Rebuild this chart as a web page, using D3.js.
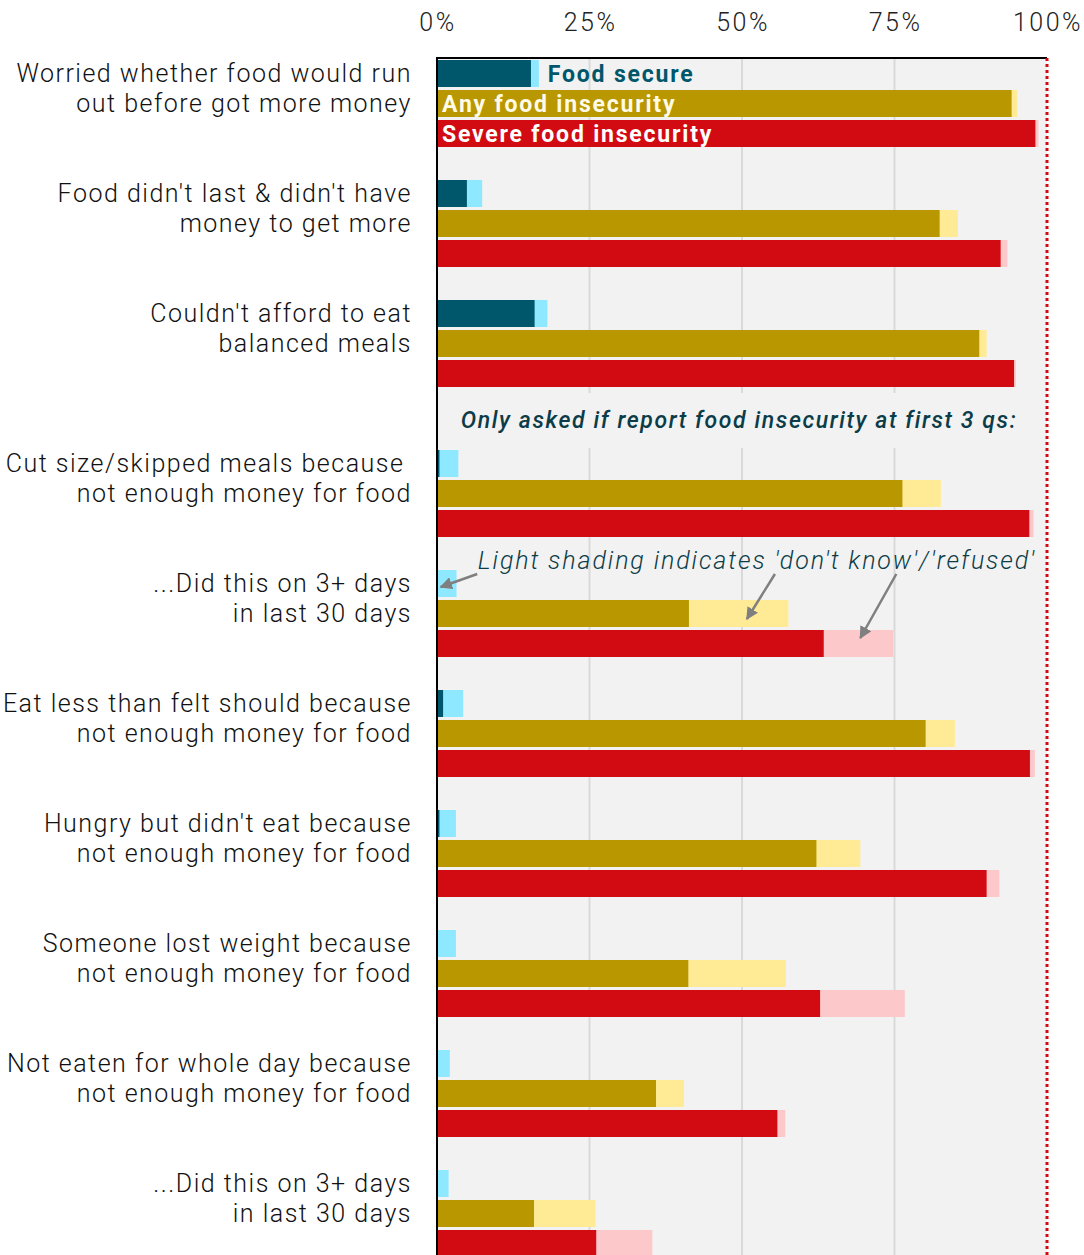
<!DOCTYPE html>
<html>
<head>
<meta charset="utf-8">
<title></title>
<script src="https://cdn.jsdelivr.net/npm/d3@7/dist/d3.min.js"></script>
<style>
body{margin:0;background:#fff;}
text{font-family:Roboto,"Noto Sans",sans-serif;}
</style>
</head>
<body>
<svg id="chart" width="1084" height="1255"></svg>
<script>
// question labels (two lines each)
var questions=[
  ["Worried whether food would run","out before got more money"],
  ["Food didn't last & didn't have","money to get more"],
  ["Couldn't afford to eat","balanced meals"],
  ["Cut size/skipped meals because ","not enough money for food"],
  ["...Did this on 3+ days","in last 30 days"],
  ["Eat less than felt should because","not enough money for food"],
  ["Hungry but didn't eat because","not enough money for food"],
  ["Someone lost weight because","not enough money for food"],
  ["Not eaten for whole day because","not enough money for food"],
  ["...Did this on 3+ days","in last 30 days"]
];
// % answering yes (dark) and yes + don't know/refused (light end)
var secureYes=[15.4,4.9,16.0,0.4,0,1.0,0.4,0,0,0];
var secureAll=[16.7,7.4,18.1,3.5,3.2,4.3,3.1,3.1,2.1,1.9];
var anyYes=[94.2,82.4,88.9,76.3,41.3,80.1,62.2,41.2,35.9,15.9];
var anyAll=[95.1,85.4,90.1,82.6,57.6,84.9,69.4,57.2,40.5,26.0];
var severeYes=[98.1,92.4,94.6,97.1,63.4,97.2,90.1,62.8,55.8,26.1];
var severeAll=[98.6,93.5,94.9,97.8,74.8,98.0,92.2,76.7,57.1,35.3];
var seriesNames=["Food secure","Any food insecurity","Severe food insecurity"];
var tickVals=[0,25,50,75,100];

var svg=d3.select('#chart');
var W=1084,H=1255;
var top0=58;

var x=d3.scaleLinear().domain([0,100]).range([437,1047]);
// slot index -> y of bar top
var y=d3.scaleLinear().domain([0,1]).range([60,90]);
var barH=27;
function slot(i,j){return i*4+j+(i>=3?1:0);}

var dark=['#00566b','#b99700','#d20b13'];
var light=['#8ee8ff','#ffeb96','#fdc8ca'];
var yesArr=[secureYes,anyYes,severeYes];
var allArr=[secureAll,anyAll,severeAll];

// background
svg.append('rect').attr('x',x(0)).attr('y',top0)
  .attr('width',x(100)-x(0)).attr('height',H-top0).attr('fill','#f2f2f2');

// gridlines
svg.selectAll('.grid').data([25,50,75]).enter().append('line')
  .attr('x1',d=>x(d)).attr('x2',d=>x(d))
  .attr('y1',top0).attr('y2',H)
  .attr('stroke','#d9d9d9').attr('stroke-width',2);

// cover gridlines behind note
svg.append('rect').attr('x',x(0)+2).attr('y',393).attr('width',x(100)-x(0)-6).attr('height',55).attr('fill','#f2f2f2');

// axis tick labels
svg.selectAll('.tick').data(tickVals).enter().append('text')
  .attr('x',d=>x(d)).attr('y',22).attr('dy','0.35em')
  .attr('text-anchor',d=>d==100?'end':'middle')
  .attr('dx',d=>d==100?36:1)
  .attr('font-size',25).attr('font-weight',300).attr('fill','#222')
  .attr('letter-spacing',2.5)
  .text(d=>d+'%');

// bars
var rows=[];
questions.forEach(function(q,i){
  for(var j=0;j<3;j++){
    rows.push({i:i,j:j,yes:yesArr[j][i],all:allArr[j][i]});
  }
});
var g=svg.append('g');
g.selectAll('.lt').data(rows).enter().append('rect')
  .attr('x',x(0)).attr('y',d=>y(slot(d.i,d.j)))
  .attr('width',d=>x(d.all)-x(0)).attr('height',barH)
  .attr('fill',d=>light[d.j]);
g.selectAll('.dk').data(rows).enter().append('rect')
  .attr('x',x(0)).attr('y',d=>y(slot(d.i,d.j)))
  .attr('width',d=>Math.max(0,x(d.yes)-x(0))).attr('height',barH)
  .attr('fill',d=>dark[d.j]);

// series labels in first group
var lab=svg.append('g').attr('font-size',23).attr('font-weight','bold').attr('letter-spacing',1.8);
lab.append('text').attr('x',x(secureAll[0])+9).attr('y',y(slot(0,0))+barH/2).attr('dy','0.35em')
  .attr('fill','#00566b').text(seriesNames[0]);
lab.append('text').attr('x',x(0)+5).attr('y',y(slot(0,1))+barH/2).attr('dy','0.35em')
  .attr('fill','#fffbe6').text(seriesNames[1]);
lab.append('text').attr('x',x(0)+5).attr('y',y(slot(0,2))+barH/2).attr('dy','0.35em')
  .attr('fill','#fff').text(seriesNames[2]);

// category labels
questions.forEach(function(q,i){
  q.forEach(function(line,k){
    svg.append('text').attr('x',412).attr('y',y(slot(i,k))+barH/2).attr('dy','0.35em')
      .attr('text-anchor','end').attr('font-size',25).attr('font-weight',300)
      .attr('letter-spacing',1.5)
      .attr('fill','#111').style('white-space','pre').text(line);
  });
});

// axis frame
svg.append('line').attr('x1',x(0)).attr('x2',x(100)).attr('y1',top0).attr('y2',top0)
  .attr('stroke','#000').attr('stroke-width',2);
svg.append('line').attr('x1',x(0)).attr('x2',x(0)).attr('y1',top0-1).attr('y2',H)
  .attr('stroke','#000').attr('stroke-width',2);
svg.append('line').attr('x1',x(100)).attr('x2',x(100)).attr('y1',top0).attr('y2',H)
  .attr('stroke','#d20b13').attr('stroke-width',3).attr('stroke-dasharray','3,3');

// notes
svg.append('text').attr('x',739).attr('y',420).attr('dy','0.35em').attr('text-anchor','middle')
  .attr('font-size',23).attr('font-style','italic').attr('font-weight',500).attr('fill','#0b3c48')
  .attr('letter-spacing',1.6)
  .text('Only asked if report food insecurity at first 3 qs:');
svg.append('text').attr('x',757).attr('y',560).attr('dy','0.35em').attr('text-anchor','middle')
  .attr('font-size',25).attr('font-style','italic').attr('font-weight',300).attr('fill','#0b3c48')
  .attr('letter-spacing',1.9)
  .text("Light shading indicates 'don't know'/'refused'");

svg.append('defs').append('marker').attr('id','ah')
  .attr('viewBox','0 0 10 10').attr('refX',9).attr('refY',5)
  .attr('markerWidth',5).attr('markerHeight',5).attr('orient','auto')
  .append('path').attr('d','M0,0L10,5L0,10Z').attr('fill','#7f7f7f');
var arrows=[[6.6,574,0.6,587],[55.4,574,50.8,619],[75.3,574,69.4,638]];
svg.selectAll('.arr').data(arrows).enter().append('line')
  .attr('x1',d=>x(d[0])).attr('y1',d=>d[1]).attr('x2',d=>x(d[2])).attr('y2',d=>d[3])
  .attr('stroke','#7f7f7f').attr('stroke-width',2.5).attr('marker-end','url(#ah)');
</script>
</body>
</html>
